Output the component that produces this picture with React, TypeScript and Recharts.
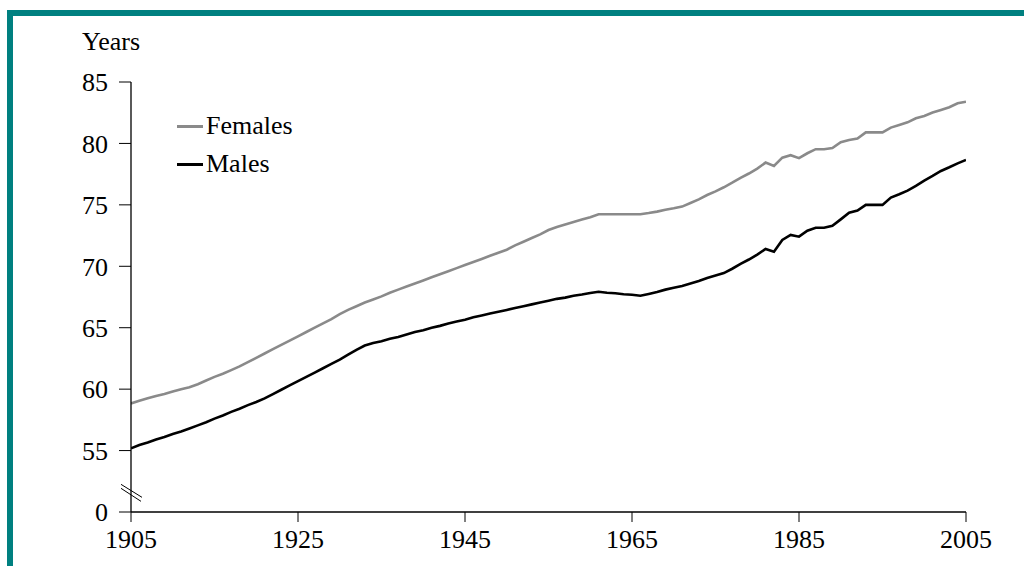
import React from "react";
import { LineChart, Line, XAxis, YAxis, ReferenceDot } from "recharts";

const years: number[] = [];
for (let y = 1905; y <= 2005; y++) years.push(y);

const females = [
  58.84, 59.05, 59.25, 59.45, 59.6, 59.8, 60.0, 60.15, 60.4, 60.7,
  61.0, 61.25, 61.55, 61.85, 62.2, 62.55, 62.9, 63.25, 63.6, 63.95,
  64.3, 64.65, 65.0, 65.35, 65.7, 66.1, 66.45, 66.75, 67.05, 67.3,
  67.55, 67.85, 68.1, 68.35, 68.6, 68.85, 69.1, 69.35, 69.6, 69.85,
  70.1, 70.35, 70.6, 70.85, 71.1, 71.35, 71.7, 72.0, 72.3, 72.6,
  72.95, 73.2, 73.4, 73.6, 73.8, 74.0, 74.23, 74.23, 74.23, 74.23,
  74.23, 74.23, 74.33, 74.45, 74.6, 74.72, 74.86, 75.15, 75.45, 75.8,
  76.1, 76.43, 76.8, 77.2, 77.55, 77.95, 78.44, 78.17, 78.84, 79.04,
  78.8, 79.2, 79.53, 79.53, 79.63, 80.1, 80.28, 80.39, 80.9, 80.9,
  80.9, 81.29, 81.5, 81.72, 82.05, 82.24, 82.51, 82.73, 82.95, 83.27,
  83.4,
];

const males = [
  55.18, 55.45, 55.65, 55.9, 56.1, 56.35, 56.55, 56.8, 57.05, 57.3,
  57.6, 57.85, 58.15, 58.4, 58.7, 58.95, 59.25, 59.6, 59.95, 60.3,
  60.65, 61.0, 61.35, 61.7, 62.05, 62.4, 62.8, 63.2, 63.55, 63.75,
  63.9, 64.1, 64.25, 64.45, 64.65, 64.8, 65.0, 65.15, 65.35, 65.5,
  65.65, 65.85, 66.0, 66.15, 66.3, 66.45, 66.6, 66.75, 66.9, 67.05,
  67.2, 67.35, 67.45, 67.6, 67.7, 67.82, 67.93, 67.85, 67.8, 67.72,
  67.68, 67.6, 67.75, 67.9, 68.1, 68.25, 68.4, 68.6, 68.8, 69.05,
  69.25, 69.45, 69.8, 70.2, 70.55, 70.95, 71.41, 71.19, 72.14, 72.55,
  72.41, 72.9, 73.14, 73.14, 73.3, 73.82, 74.36, 74.53, 75.0, 75.0,
  75.0, 75.59, 75.86, 76.16, 76.54, 76.97, 77.35, 77.76, 78.06, 78.38,
  78.66,
];

const xTicks = [1905, 1925, 1945, 1965, 1985, 2005];
// 50 is the broken-axis position drawn with the label "0"
const yTicks = [50, 55, 60, 65, 70, 75, 80, 85];
const yTickLabels = ["0", "55", "60", "65", "70", "75", "80", "85"];
const seriesNames = ["Females", "Males"];

const data = years.map((year, i) => ({ year, Females: females[i], Males: males[i] }));

const FONT = "'Liberation Serif', 'Times New Roman', serif";
const TEAL = "#008080";
const GRAY = "#8a8a8a";
const seriesColors = [GRAY, "#000"];

const BreakMark = (props: any) => {
  const { cx, cy } = props;
  return (
    <g stroke="#000" strokeWidth={1}>
      <line x1={cx - 10} y1={cy - 8} x2={cx + 11} y2={cy + 5} />
      <line x1={cx - 10} y1={cy - 4} x2={cx + 10} y2={cy + 9} />
    </g>
  );
};

export default function App() {
  return (
    <div style={{ position: "absolute", left: 0, top: 0, width: 1024, height: 566, background: "#fff" }}>
      <div style={{ position: "absolute", left: 7, top: 10, width: 1017, height: 6, background: TEAL }} />
      <div style={{ position: "absolute", left: 7, top: 10, width: 6, height: 556, background: TEAL }} />
      <div
        style={{
          position: "absolute",
          left: 82,
          top: 29,
          fontFamily: FONT,
          fontSize: 26,
          lineHeight: "26px",
          color: "#000",
        }}
      >
        Years
      </div>
      <div style={{ position: "absolute", left: 0, top: 0 }}>
        <LineChart
          width={1024}
          height={566}
          data={data}
          margin={{ top: 82, right: 58, bottom: 14, left: 71 }}
        >
          <XAxis
            dataKey="year"
            type="number"
            domain={[1905, 2005]}
            ticks={xTicks}
            allowDataOverflow
            height={40}
            tickSize={10}
            tickMargin={8}
            axisLine={{ stroke: "#000", strokeWidth: 1.3 }}
            tickLine={{ stroke: "#000", strokeWidth: 1 }}
            tick={{ fill: "#000", fontSize: 26, fontFamily: FONT }}
            interval={0}
          />
          <YAxis
            type="number"
            domain={[50, 85]}
            ticks={yTicks}
            allowDataOverflow
            width={60}
            tickSize={12}
            tickMargin={11}
            interval={0}
            tickFormatter={(v: number) => yTickLabels[yTicks.indexOf(v)] ?? String(v)}
            axisLine={{ stroke: "#000", strokeWidth: 1.3 }}
            tickLine={{ stroke: "#000", strokeWidth: 1 }}
            tick={{ fill: "#000", fontSize: 26, fontFamily: FONT }}
          />
          <Line
            dataKey="Females"
            stroke={GRAY}
            strokeWidth={2.6}
            dot={false}
            isAnimationActive={false}
          />
          <Line
            dataKey="Males"
            stroke="#000"
            strokeWidth={2.6}
            dot={false}
            isAnimationActive={false}
          />
          <ReferenceDot x={1905} y={51.6} r={0} ifOverflow="visible" shape={<BreakMark />} />
        </LineChart>
      </div>
      <div
        style={{
          position: "absolute",
          left: 177,
          top: 107,
          fontFamily: FONT,
          fontSize: 26,
          color: "#000",
          lineHeight: "38px",
        }}
      >
        {seriesNames.map((name, i) => (
          <div key={name} style={{ display: "flex", alignItems: "center" }}>
            <span
              style={{ display: "inline-block", width: 26, height: 3, background: seriesColors[i], marginRight: 3 }}
            />
            <span>{name}</span>
          </div>
        ))}
      </div>
    </div>
  );
}
